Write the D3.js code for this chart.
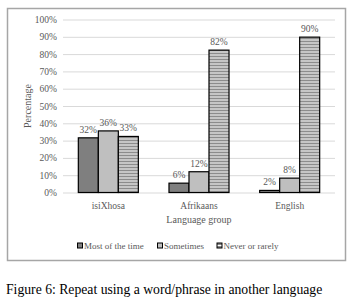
<!DOCTYPE html>
<html>
<head>
<meta charset="utf-8">
<script src="https://cdn.jsdelivr.net/npm/d3@7/dist/d3.min.js"></script>
<style>
  body { margin: 0; background: #fff; }
  svg { display: block; font-family: "Liberation Serif", "Times New Roman", serif; }
</style>
</head>
<body>
<div id="chart"></div>
<script>
(function() {
    'use strict';

    // data
    var groups = ['isiXhosa', 'Afrikaans', 'English'];
    var seriesNames = ['Most of the time', 'Sometimes', 'Never or rarely'];
    var mostValues = [31.6, 5.4, 1.2];
    var sometimesValues = [35.6, 12, 8.3];
    var neverValues = [32.4, 82.3, 89.8];
    var mostLabels = ['32%', '6%', '2%'];
    var sometimesLabels = ['36%', '12%', '8%'];
    var neverLabels = ['33%', '82%', '90%'];
    var yTicks = [0, 10, 20, 30, 40, 50, 60, 70, 80, 90, 100];

    var series = [
        { name: seriesNames[0], values: mostValues, labels: mostLabels, fill: '#7f7f7f' },
        { name: seriesNames[1], values: sometimesValues, labels: sometimesLabels, fill: '#bfbfbf' },
        { name: seriesNames[2], values: neverValues, labels: neverLabels, fill: 'url(#stripes)' }
    ];

    var width = 353, height = 305;
    var margin = {top: 19.5, right: 18, bottom: 112.5, left: 63};

    var svg = d3.select('#chart')
                .append('svg')
                .attr('width', width)
                .attr('height', height);

    // striped pattern for "Never or rarely"
    var pat = svg.append('defs').append('pattern')
        .attr('id', 'stripes')
        .attr('patternUnits', 'userSpaceOnUse')
        .attr('width', 6)
        .attr('height', 3);
    pat.append('rect').attr('width', 6).attr('height', 3).attr('fill', '#fff');
    pat.append('rect').attr('width', 6).attr('height', 2).attr('fill', '#8c8c8c');

    // outer frame
    svg.append('rect')
        .attr('x', 7.5).attr('y', 8.5)
        .attr('width', 338).attr('height', 252)
        .attr('fill', 'none')
        .attr('stroke', '#a6a6a6')
        .attr('stroke-width', 1.5);

    var plotW = width - margin.left - margin.right,
        plotH = height - margin.top - margin.bottom;

    var cont = svg.append('g')
        .attr('transform', 'translate(' + margin.left + ',' + margin.top + ')');

    var x0 = d3.scaleBand()
        .domain(groups)
        .range([0, plotW])
        .paddingInner(0.338)
        .paddingOuter(0.169);

    var x1 = d3.scaleBand()
        .domain(seriesNames)
        .range([0, x0.bandwidth()]);

    var y = d3.scaleLinear()
        .domain([0, 100])
        .range([plotH, 0]);

    // gridlines + tick labels
    var yAxis = d3.axisLeft(y)
        .tickValues(yTicks)
        .tickSize(-plotW)
        .tickPadding(6)
        .tickFormat(function(d) { return d + '%'; });

    var gy = cont.append('g').call(yAxis);
    gy.select('.domain').remove();
    gy.attr('font-family', null);
    gy.selectAll('.tick line').attr('stroke', '#d9d9d9');
    gy.selectAll('.tick text')
        .attr('fill', '#595959')
        .style('font-size', '9.5px');

    // bars
    var gGroups = cont.selectAll('.grp')
        .data(groups)
        .enter().append('g')
        .attr('transform', function(d) { return 'translate(' + x0(d) + ',0)'; });

    series.forEach(function(s) {
        gGroups.append('rect')
            .attr('x', x1(s.name))
            .attr('y', function(d, i) { return y(s.values[i]); })
            .attr('width', x1.bandwidth())
            .attr('height', function(d, i) { return plotH - y(s.values[i]); })
            .attr('fill', s.fill)
            .attr('stroke', '#000')
            .attr('stroke-width', 1.2);

        gGroups.append('text')
            .attr('x', x1(s.name) + x1.bandwidth() / 2)
            .attr('y', function(d, i) { return y(s.values[i]) - 5; })
            .attr('text-anchor', 'middle')
            .attr('fill', '#595959')
            .style('font-size', '9.5px')
            .text(function(d, i) { return s.labels[i]; });
    });

    // category labels
    cont.selectAll('.cat')
        .data(groups)
        .enter().append('text')
        .attr('x', function(d) { return x0(d) + x0.bandwidth() / 2; })
        .attr('y', plotH + 16)
        .attr('text-anchor', 'middle')
        .attr('fill', '#595959')
        .style('font-size', '9.5px')
        .text(function(d) { return d; });

    // axis titles
    cont.append('text')
        .attr('x', plotW / 2)
        .attr('y', plotH + 30)
        .attr('text-anchor', 'middle')
        .attr('fill', '#595959')
        .style('font-size', '10px')
        .text('Language group');

    cont.append('text')
        .attr('transform', 'translate(' + (-32) + ',' + (plotH / 2) + ')rotate(-90)')
        .attr('text-anchor', 'middle')
        .attr('fill', '#595959')
        .style('font-size', '10px')
        .text('Percentage');

    // legend
    var legendX = [77.5, 157.5, 217];
    var leg = svg.selectAll('.leg')
        .data(series)
        .enter().append('g')
        .attr('transform', function(d, i) { return 'translate(' + legendX[i] + ',243)'; });

    leg.append('rect')
        .attr('width', 5).attr('height', 5)
        .attr('fill', function(d) { return d.fill; })
        .attr('stroke', '#000')
        .attr('stroke-width', 1);

    leg.append('text')
        .attr('x', 6.5)
        .attr('y', 5.5)
        .attr('fill', '#595959')
        .style('font-size', '9px')
        .text(function(d) { return d.name; });

    // caption
    svg.append('text')
        .attr('x', 6)
        .attr('y', 293.5)
        .attr('fill', '#000')
        .style('font-size', '13.7px')
        .text('Figure 6: Repeat using a word/phrase in another language');
})();
</script>
</body>
</html>
